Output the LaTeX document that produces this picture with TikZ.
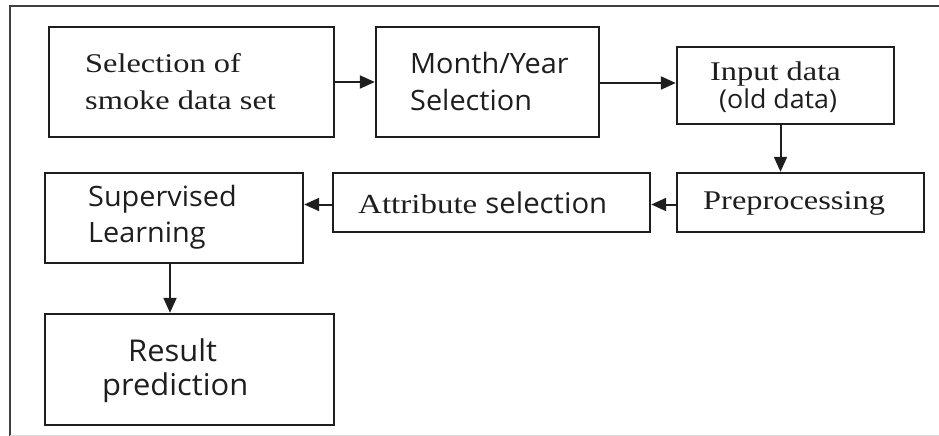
\documentclass[tikz,border=0pt]{standalone}
\usepackage{fontspec}
\setmainfont[FakeStretch=1.2]{Liberation Serif}
\newfontfamily\sansf[FakeStretch=1.03]{Open Sans}
\usetikzlibrary{arrows.meta}
\definecolor{ink}{HTML}{1E1E1E}
\begin{document}
\begin{tikzpicture}[x=1pt,y=-1pt,
  box/.style={draw=ink,line width=2.4pt,rectangle,inner sep=0pt},
  lbl/.style={inner sep=0pt,text=ink,anchor=west},
  serif/.style={font=\fontsize{27}{30}\selectfont},
  sans/.style={font=\sansf\fontsize{28}{30}\selectfont},
  bigsans/.style={font=\sansf\fontsize{30}{32}\selectfont},
  arr/.style={draw=ink,line width=2pt,-{Triangle[length=15pt,width=13pt]}}]
\useasboundingbox (0,0) rectangle (939,436);
\fill[white] (0,0) rectangle (939,436);
% outer frame
\draw[draw=ink!85,line width=1.8pt] (10,436) -- (10,6) -- (939,6);
\draw[draw=black!15,line width=1pt] (10,435) -- (939,435);
% boxes
\node[box,minimum width=285,minimum height=110] (b1) at (191.5,82) {};
\node[box,minimum width=223,minimum height=110] (b2) at (487.5,82) {};
\node[box,minimum width=217,minimum height=77] (b3) at (785.5,85.5) {};
\node[box,minimum width=247,minimum height=59] (b4) at (800.5,202.5) {};
\node[box,minimum width=317,minimum height=59] (b5) at (491.5,202.5) {};
\node[box,minimum width=258,minimum height=90] (b6) at (174,218) {};
\node[box,minimum width=289,minimum height=111] (b7) at (189.5,369.5) {};
% texts
\node[lbl,serif] (t1a) at (85,63) {Selection of};
\node[lbl,serif] (t1b) at (85,100) {smoke data set};
\node[lbl,sans] (t2a) at (410,63) {Month/Year};
\node[lbl,sans] (t2b) at (410,100) {Selection};
\node[lbl,serif] (t3a) at (710,74) {Input data};
\node[lbl,sans,font=\sansf\fontsize{26}{30}\selectfont] (t3b) at (719,101) {(old data)};
\node[lbl,serif] (t4) at (703,203) {Preprocessing};
\node[lbl,serif,font=\fontsize{27.5}{30}\selectfont] (t5a) at (358,204) {Attribute};
\node[lbl,sans,anchor=base west,font=\sansf\fontsize{28.5}{30}\selectfont] (t5b) at (t5a.base east) {\ selection};
\node[lbl,sans] (t6a) at (88,199) {Supervised};
\node[lbl,sans] (t6b) at (88,236) {Learning};
\node[lbl,bigsans] (t7a) at (128,350) {Result};
\node[lbl,bigsans] (t7b) at (102,388) {prediction};
% arrows
\draw[arr] (b1.east) -- (b2.west);
\draw[arr] ([yshift=-1pt]b2.east) -- ([yshift=-1pt]b2.east -| b3.west);
\draw[arr] ([xshift=-5pt]b3.south) -- ([xshift=-5pt]b3.south |- b4.north);
\draw[arr] ([yshift=-2pt]b4.west) -- ([yshift=-2pt]b5.east);
\draw[arr] ([yshift=-2pt]b5.west) -- ([yshift=-2pt]b5.west -| b6.east);
\draw[arr] ([xshift=-4pt]b6.south) -- ([xshift=-4pt]b6.south |- b7.north);
\end{tikzpicture}
\end{document}
